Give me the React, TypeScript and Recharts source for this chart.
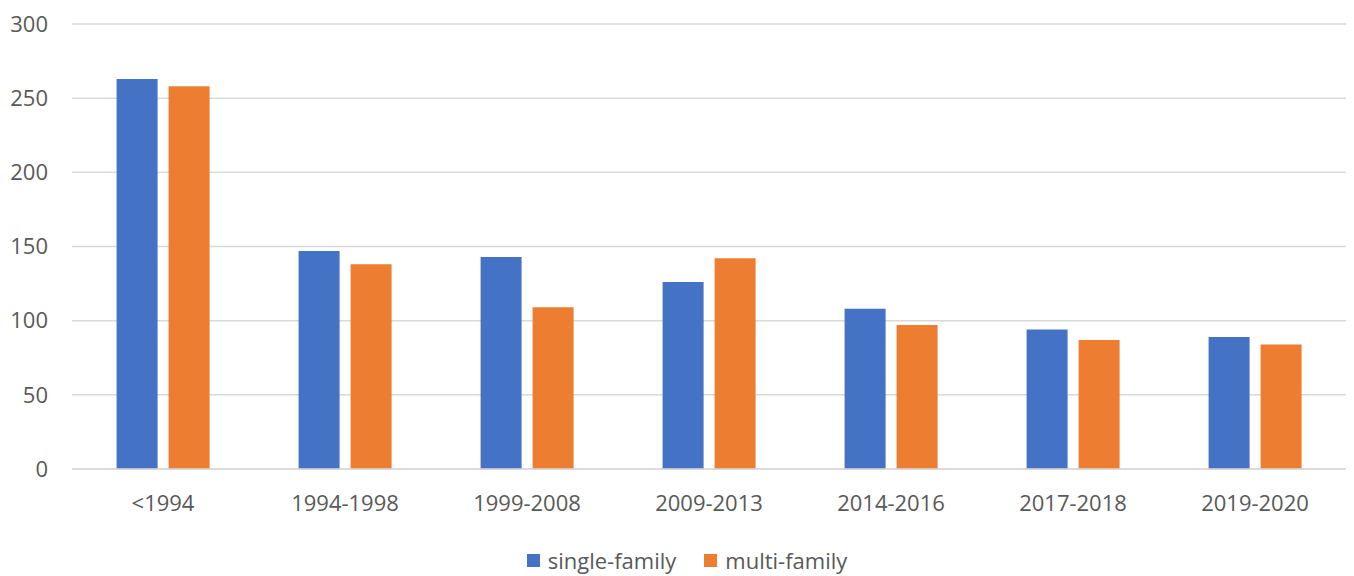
import { BarChart, Bar, XAxis, YAxis, CartesianGrid, Legend } from 'recharts';

const periods = ['<1994', '1994-1998', '1999-2008', '2009-2013', '2014-2016', '2017-2018', '2019-2020'];
const singleFamily = [263, 147, 143, 126, 108, 94, 89];
const multiFamily = [258, 138, 109, 142, 97, 87, 84];
const yTicks = [0, 50, 100, 150, 200, 250, 300];

const series = [
  { key: 'single', name: 'single-family', color: '#4472C4' },
  { key: 'multi', name: 'multi-family', color: '#ED7D31' },
];

const data = periods.map((period, i) => ({
  period,
  single: singleFamily[i],
  multi: multiFamily[i],
}));

const textStyle = { fill: '#595959', fontSize: 22, fontFamily: 'Open Sans' };

// legend drawn by hand so the order and spacing follow the original
const renderLegend = () => (
  <div
    style={{
      display: 'flex',
      justifyContent: 'center',
      paddingTop: 16,
      paddingLeft: 28,
      fontFamily: 'Open Sans',
      fontSize: 22,
      color: '#595959',
    }}
  >
    {series.map((s) => (
      <div key={s.key} style={{ display: 'flex', alignItems: 'center', margin: '0 14px' }}>
        <span style={{ width: 13, height: 13, background: s.color, marginRight: 8, display: 'inline-block' }} />
        <span>{s.name}</span>
      </div>
    ))}
  </div>
);

const App = () => {
  return (
    <div style={{ position: 'absolute', left: 0, top: 0 }}>
      <BarChart
        width={1354}
        height={576}
        data={data}
        margin={{ top: 24, right: 8, left: 0, bottom: 0 }}
        barCategoryGap="24.5%"
        barGap={11}
      >
        <CartesianGrid vertical={false} stroke="#d9d9d9" strokeWidth={1.5} />
        <XAxis
          dataKey="period"
          axisLine={{ stroke: '#d9d9d9', strokeWidth: 1.5 }}
          tickLine={false}
          tickSize={0}
          tickMargin={26}
          height={60}
          tick={textStyle}
        />
        <YAxis
          domain={[0, 300]}
          ticks={yTicks}
          axisLine={false}
          tickLine={false}
          tickSize={0}
          tickMargin={24}
          width={72}
          tick={textStyle}
        />
        <Legend verticalAlign="bottom" height={47} content={renderLegend} />
        {series.map((s) => (
          <Bar key={s.key} dataKey={s.key} name={s.name} fill={s.color} isAnimationActive={false} />
        ))}
      </BarChart>
    </div>
  );
};

export default App;
